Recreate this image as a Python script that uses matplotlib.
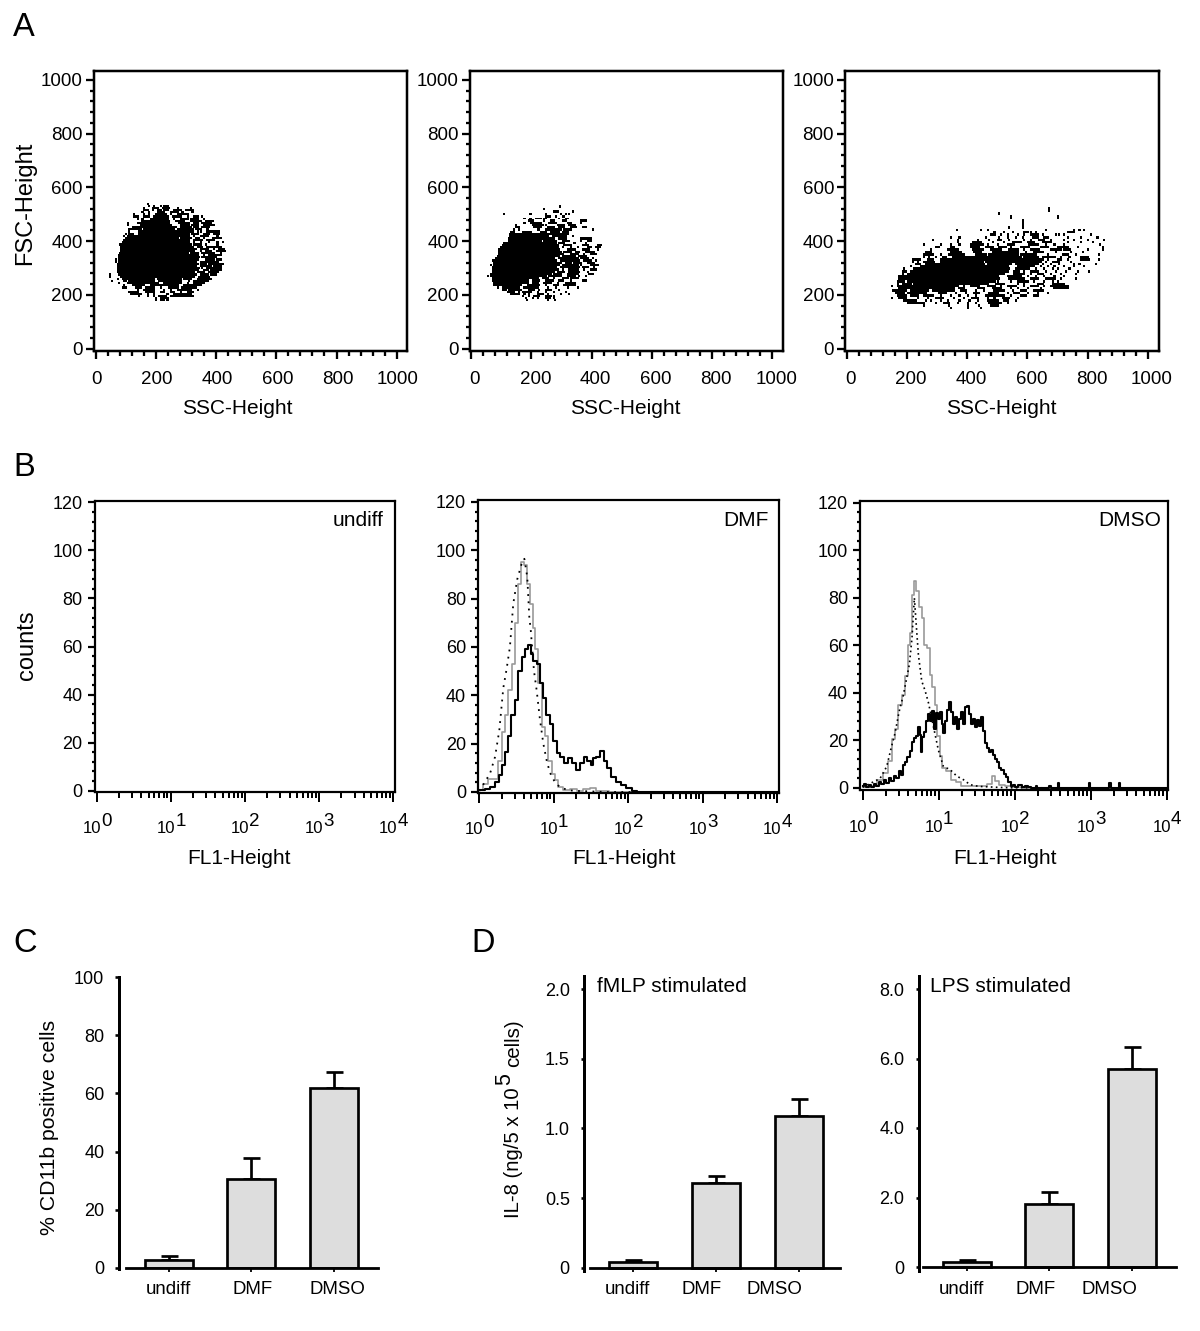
import numpy as np
import matplotlib
matplotlib.use('Agg')
import matplotlib.pyplot as plt
from matplotlib.ticker import MultipleLocator, FixedLocator, NullFormatter, LogLocator

plt.rcParams['font.family'] = ['Liberation Sans', 'DejaVu Sans']

W, H = 1200, 1331
PX = 0.72

# panel A, one row per FSC level: "fsc: ssc ssc-ssc ..." (ranges are solid runs of dots)
cloud_undiff = [
    "544: 169", "536: 175 191 213 224-235", "528: 158 186-202 219-241 269 313",
    "520: 158-169 186 202-213 224-235 257-280 296-318", "512: 152 175 202-224 246-269 285 318",
    "504: 125 158 175 197-230 246 269-302", "496: 125-136 158-175 191-235 252-280 302 324-335 351",
    "488: 136 152 180-235 257 280-302 313-335 357", "480: 152-241 263-291 313-346 362-385",
    "472: 103 136-241 274-307 324-335 351-379", "464: 103 147-246 280-307 318-335 357-390",
    "456: 119-263 280-313 324-335 351-373", "448: 108-147 158-257 269-318 329-346 368",
    "440: 108 141-318 335 346 368-407", "432: 97 108-119 141-307 318-335 357-373 390-407",
    "424: 92 103-307 324 346-368 401", "416: 97-269 280-313 329-340 357 385-412",
    "408: 92-307 324-351 368-390", "400: 86-307 324 346 373 401 418",
    "392: 78-92 97-313 324-346 362 401", "384: 81-318 335-351 368-412",
    "376: 81-329 346-368 390 407-423", "368: 81-324 346 362-379 401-425",
    "360: 78-302 313-335 351-390 412", "352: 75-335 357 373-412", "344: 75-340 351-396",
    "336: 64 75-335 362-390 401-412", "328: 64 75-329 346-401", "320: 70-335 346-362 373-418",
    "312: 70-329 346-380 390-412", "304: 70-81 86-340 351 368-412", "296: 70-335 357-368 379-412",
    "288: 70-324 335-357 373-401", "280: 45 75-329 346-368 379-396", "272: 45 81-324 340-373",
    "264: 70 86-191 202-280 291-313 335-379", "256: 52 92-97 108-191 208-280 307 324-368",
    "248: 75 103-202 224-280 302 324-357", "240: 92 119-158 180-269 291-346",
    "232: 86-97 130-147 164-191 213 241-269 285-329", "224: 136 158-191 224 246 269-313 335",
    "216: 108-136 164-191 213-224 246-257 280 302-318", "208: 114-147 169 191 235 257-313",
    "200: 141 169 191 208-230 246-318", "192: 197 213-235", "184: 197 213-224 235",
]
cloud_dmf = [
    "535: 293", "525: 240", "516: 273-284 334", "506: 107 194 246 295 312 323", "497: 246-257 279 301-306",
    "488: 174 194 212-229 240-246 290 312-317", "481: 190-201 240 262-273 301-312 362-378",
    "473: 174 196-229 257-279 317-328 362", "464: 146 201-234 246 284-306 323-340",
    "456: 146-157 207-229 251-273 290-306 328-345 367-378", "448: 140 157 218-223 246-295 306-328 400",
    "439: 129-140 168-196 229-246 262-290 301-317", "432: 127-246 251-317", "423: 127-251 268-312 334",
    "414: 124-129 135-273 290-312 362-373 378-395", "405: 124-229 240-279 301-323 362 384-395",
    "398: 107-279 290-306 340 378", "390: 102-124 129-284 306-328 367-384 417-428",
    "382: 96-284 301 328 351 384-395 411-423", "373: 91-290 317-340 367-389 417",
    "365: 91-295 306-328 345-356 378-406", "357: 91-301 328-351 373 395-411",
    "349: 85-290 301-340 356-378", "340: 80-273 290-351 362-384 400",
    "332: 69-273 279 295-356 373-395 411", "324: 74-295 312-328 340-362 384-406",
    "315: 63 74-290 301-351 362 395-417", "308: 69-279 295-356 367-384 406",
    "299: 69-284 301 323-351 373 395-411", "290: 69-273 284-306 323-356 384",
    "283: 63-262 273-295 317-351 389-400", "274: 52 63-246 257-295 317-340 356 378",
    "265: 69-218 234-251 273 301-317 328-351", "258: 69-185 201-223 246-268 290-301 328 367-378",
    "249: 74-185 201-218 240-262 284 312-340", "241: 74-85 91-163 185-223 246 273-284 306-340",
    "233: 85 102-157 174-218 251 279 317 351", "224: 102-113 124-163 190-207 223 246-262 290",
    "216: 118-140 157 168-196 218 246 273 312", "208: 129-157 174 190 218-234 251 295 323",
    "199: 168 190 207-223 246-262 273", "191: 179 201 218 246-257 273", "184: 182 251 275",
]
cloud_dmso = [
    "526: 669", "507: 501", "499: 542 697", "481: 581", "456: 536 581", "447: 363 442 465 658 752 769 783",
    "439: 487 520 547 586-597 608 625 730-752", "429: 476-487 509 531 564 586 608-630 647 691 702 719 807",
    "420: 343 371 459 503 531 559 581 614-630 652-664 730 774 829",
    "410: 282 365 431 470 498-509 536 586 608 636-652 674 719 752 796 849",
    "402: 365 415-442 481 520 547-575 597-619 647-674 730 774 813",
    "392: 254 310 343 371 409-448 465 498 531-553 603-630 658 686 719 838",
    "383: 293-304 343-354 409-437 459-481 503-525 542 575-603 641-664 697-730 763 846",
    "373: 276 332-365 415-448 476-509 536-564 586 608-636 674-708 719-736 796 846",
    "365: 260-276 343-376 420-442 481-564 592 619-647 691 741 780",
    "355: 254-282 310 337-387 426-459 470-564 575-625 664 713-730 758 835",
    "345: 254 271 293 315-326 348-575 586-630 647-686 708 736 774-796",
    "336: 216-238 265-282 310-476 481-647 664 697-708 730 774-802 835",
    "328: 216 232 254-287 310-448 459-641 658 680-702 741",
    "320: 227-238 260-453 465-542 559-630 647 674 702 752 769 824",
    "311: 210 243-531 564-619 641 664 686 719 752 785", "303: 188 221-536 559-603 625 652 680 697 736",
    "293: 182-194 210-531 553-569 586 608-630 658 691 725 763 802",
    "283: 182 199-520 553-586 608 630-647 674 708 758", "274: 171-498 531-575 597 625 652 686 719",
    "265: 171-503 536-586 608-630 658-686 708 758", "255: 166-188 199-487 498 542 564-597 619 652 680 697",
    "245: 166 182-210 221-465 492-520 564 586 630-647 680-719",
    "237: 146 166-365 387 409-437 465-487 509 531-559 586 608-630 652 674-730",
    "228: 171-354 371-387 431-453 481-509 542 564 597 641 686-730",
    "221: 152-194 210-265 282-354 376-393 426 453 487-520 547 575-592 619-647",
    "212: 160-188 199-260 304-326 359 393 420-437 470-498 531 553-569 597 630 664",
    "203: 166-194 210-232 254-282 310 343 371 398 426 459-520 542 575-592 619-630",
    "194: 146 171-194 232 265 293-315 354 387 414-431 465 487 514-536 564",
    "185: 188-227 260 276 310 332 371 404 431 465-498 520-531 559",
    "175: 199-254 293 321-337 365 398 426 470-509 531", "166: 254 337 398 437 476-498", "156: 343 398 442",
]

# panel B, FL1 in channels (256 channels over 4 decades), counts per channel
dmf_black_ch = [0, 3.4, 6.3, 12, 15, 18, 21, 23.5, 26, 29, 32, 35, 38, 40, 43, 45, 48, 51, 54, 56, 59, 62, 65, 68,
                71, 74, 78, 81, 85, 88, 91, 94, 97, 99, 102, 106, 108.5, 111, 115, 119, 124, 128, 134, 137, 256]
dmf_black = [0.7, 1, 1.4, 2, 4, 7, 11, 16.5, 23, 32, 38, 50, 56, 59, 61, 57, 54, 53, 45, 39, 32, 28, 21, 16,
             14.5, 12, 14, 12, 9, 12, 14.5, 13, 11, 14, 14.5, 17, 13, 10, 6, 4, 3, 1.5, 0.4, 0, 0]
dmf_gray_ch = [0, 6.3, 9.2, 13.5, 17.8, 20.6, 23.5, 26.3, 29.2, 32.1, 34.9, 37.2, 40.1, 42.1, 45, 47, 49.3, 52.1,
               54.9, 57.9, 60.7, 63.6, 66.4, 69.3, 75, 80.8, 86.5, 92.2, 97.9, 102.2, 108, 114, 256]
dmf_gray = [0.7, 3.5, 5.5, 5.5, 13, 25, 32, 42, 53, 70, 86, 95, 94, 86, 78, 68, 59, 45,
            27, 23, 13, 7.6, 4.8, 2, 1, 1.4, 0.4, 1.4, 1.8, 0.4, 0.4, 0, 0]
dmf_dot_ch = [0, 9.2, 13.5, 17.2, 20.6, 23.5, 26.3, 29.2, 32.6, 36.4, 38.7, 41.2, 43, 44.1, 47, 49.3, 52.1, 55,
              57.9, 60.7, 65, 69.3, 76.5, 86.5, 109, 256]
dmf_dot = [0.4, 7.6, 14.5, 25.5, 43, 51, 60, 78, 88, 94.5, 96.5, 89, 72, 67.6, 50, 42, 30, 20,
           13, 8, 4, 2, 0.7, 0.4, 0, 0]

dmso_black_ch = [0, 2, 3.9, 6.2, 8.4, 10.4, 12.4, 14.6, 16.8, 18.8, 20.8, 23, 25, 27.2, 29.5, 31.4, 33.1, 34.8,
                 36.5, 38.5, 40.4, 42.1, 43.8, 45.5, 47.2, 48.6, 49.7, 50.8, 52.5, 54.5, 56.1, 57.8, 59.5, 60.9,
                 62.3, 64, 65.7, 67.1, 68.5, 70.2, 71.9, 73.5, 75.2, 76.9, 78.6, 80.3, 82, 83.6, 85.3, 87, 88.7,
                 90.4, 92.1, 93.8, 95.4, 97.1, 98.8, 100.5, 102.2, 103.9, 105.5, 107.2, 108.9, 110.6, 112.3, 114,
                 115.6, 117.9, 119.9, 121.8, 123.5, 125.5, 127.4, 129.7, 132.5, 135.3, 138.1, 140.4, 142.6,
                 145.5, 146.5, 147.5, 156.8, 157.8, 158.8, 163.8, 164.8, 165.8, 189.9, 190.9, 191.9,
                 207.3, 208.3, 209.3, 215, 216, 217, 256]
dmso_black = [0.7, 1.5, 0.3, 1.3, 0.5, 1.8, 0.7, 2.6, 1.5, 3.3, 2.2, 4.2, 3.1, 5.2, 4.2, 7, 5.3, 9.5,
              10.8, 13, 15.5, 19.5, 21, 22, 25.5, 22.5, 15, 21.5, 23.5, 28, 31, 28, 32.5, 25,
              31.5, 29, 32, 27, 23, 28, 33, 36, 32, 27, 30, 25, 29, 32, 27, 34, 34.5,
              31, 27, 29, 25.5, 28.5, 26, 30, 24, 19, 17, 15, 16, 14, 12, 11,
              8.5, 7.5, 6, 4.5, 2.5, 0.8, 1.3, 0.4, 1.2, 0.3, 1, 0.5, 0,
              0, 1, 0, 0, 1, 0, 0, 2, 0, 0, 2, 0,
              0, 2, 0, 0, 2, 0, 0]
dmso_gray_ch = [0, 9, 14.6, 18.8, 23, 25.8, 28.6, 31.4, 34.2, 36.5, 39.3, 40.7, 42.7, 44, 46, 48.3, 51, 52.5, 55.9,
                56.7, 59.5, 61.8, 63.7, 66, 68, 72, 76.4, 80.6, 84.8, 90.4, 97.4, 103, 107, 110, 112.8, 117,
                122.7, 126.9, 141, 256]
dmso_gray = [0.3, 0.7, 3.5, 6.4, 11.3, 20.6, 25, 35, 39, 47, 60, 65, 81, 87, 83, 76, 71.6, 60, 59,
             47.5, 42.5, 35, 22, 13.5, 8.5, 7, 3.5, 2.4, 0.7, 1, 0.7, 1, 1.8, 5.2, 2.8, 1.4,
             0.7, 0.4, 0, 0]
dmso_dot_ch = [0, 14.6, 20.2, 24.4, 27.2, 30.6, 34.2, 39.3, 41.5, 43.5, 44.9, 46.9, 49.7, 52.5, 55.3, 59.5, 63.7,
               68, 73.5, 79.2, 84.8, 90.4, 97.4, 112.8, 124, 256]
dmso_dot = [0.3, 4, 9, 17.7, 23, 32, 39, 52, 63, 80, 70, 56, 45, 41, 36, 26, 16,
            9, 7.8, 5, 3.5, 1.4, 0.7, 0.3, 0.1, 0]

# panels C and D
groups = ['undiff', 'DMF', 'DMSO']
cd11b = [2.6, 30.4, 61.9]
cd11b_err = [1.5, 7.3, 5.6]
il8_fmlp = [0.038, 0.605, 1.089]
il8_fmlp_err = [0.015, 0.055, 0.119]
il8_lps = [0.144, 1.81, 5.71]
il8_lps_err = [0.056, 0.35, 0.61]


def make_axes(fig, left, right, top, bottom):
    return fig.add_axes([left / W, 1 - bottom / H, (right - left) / W, (bottom - top) / H])


def limits(low, high, p0, v0, p1, v1):
    # axis limits so that value v0 falls on pixel p0 and v1 on pixel p1
    scale = (v1 - v0) / (p1 - p0)
    return v0 + (low - p0) * scale, v0 + (high - p0) * scale


def px_text(fig, x, y, s, size, **kw):
    kw.setdefault('ha', 'center')
    kw.setdefault('va', 'center')
    return fig.text(x / W, 1 - y / H, s, fontsize=size, **kw)


def draw_cloud(ax, rows):
    # a dot is 7 SSC units wide, a row reaches down to the next FSC level
    levels = [int(row.split(':')[0]) for row in rows]
    for i, row in enumerate(rows):
        spans = []
        for cell in row.split(':')[1].split():
            a, _, b = cell.partition('-')
            spans.append((int(a), int(b or a) - int(a) + 7))
        height = levels[i] - levels[i + 1] if i + 1 < len(rows) else 8
        ax.broken_barh(spans, (levels[i] - height, height), facecolors='black',
                       linewidth=0, antialiased=False)


def dot_panel(fig, rows, box, x0, x1000, label_shift):
    left, right = box
    ax = make_axes(fig, left, right, 70.7, 350.8)
    draw_cloud(ax, rows)
    ax.set_xlim(limits(left, right, x0, 0, x1000, 1000))
    ax.set_ylim(limits(350.8, 70.7, 348.7, 0, 80, 1000))
    ax.xaxis.set_minor_locator(MultipleLocator(40))
    ax.yaxis.set_major_locator(MultipleLocator(200))
    ax.yaxis.set_minor_locator(MultipleLocator(40))
    ax.tick_params(which='major', length=8 * PX, width=2.3 * PX, labelsize=13.5)
    ax.tick_params(which='minor', length=4.5 * PX, width=2.3 * PX)
    ax.tick_params(axis='y', which='major', pad=3 * PX)
    for sp in ax.spines.values():
        sp.set_linewidth(2.5 * PX)
    ax.set_xticks(np.arange(0, 1001, 200))
    ax.set_xticklabels([])
    for v in np.arange(0, 1001, 200):
        ax.annotate(str(v), xy=(v, 0), xycoords=('data', 'axes fraction'),
                    xytext=(label_shift * PX, -28.5 * PX), textcoords='offset points',
                    ha='center', va='center', fontsize=13.5)
    return ax


def hist_panel(fig, box, x0, x4, y0, y120, top, bottom, curves, tag, tag_right):
    left, right = box
    ax = make_axes(fig, left, right, top, bottom)
    for ch, counts, color, lw, style in curves:
        kw = {'drawstyle': 'steps-mid'} if style == '-' else {}
        ax.plot(10 ** (np.array(ch) / 64), counts, color=color, lw=lw, ls=style, **kw)
    ax.set_xscale('log')
    lo, hi = limits(left, right, x0, 0, x4, 4)
    ax.set_xlim(10 ** lo, 10 ** hi)
    ax.set_ylim(limits(bottom, top, y0, 0, y120, 120))
    ax.xaxis.set_major_locator(FixedLocator([1, 10, 100, 1000, 10000]))
    ax.xaxis.set_minor_locator(LogLocator(base=10, subs=np.arange(2, 10), numticks=20))
    ax.xaxis.set_major_formatter(NullFormatter())
    ax.xaxis.set_minor_formatter(NullFormatter())
    ax.yaxis.set_major_locator(MultipleLocator(20))
    ax.yaxis.set_minor_locator(MultipleLocator(4))
    ax.tick_params(axis='y', which='major', length=7 * PX, width=2.2 * PX, labelsize=13, pad=5 * PX)
    ax.tick_params(axis='y', which='minor', length=3.5 * PX, width=2.2 * PX)
    ax.tick_params(axis='x', which='major', length=10 * PX, width=2 * PX)
    ax.tick_params(axis='x', which='minor', length=5.5 * PX, width=2 * PX)
    for sp in ax.spines.values():
        sp.set_linewidth(2.2 * PX)
    for d in range(5):
        ax.annotate('10', xy=(10 ** d, 0), xycoords=('data', 'axes fraction'),
                    xytext=(-5 * PX, -37 * PX), textcoords='offset points',
                    ha='center', va='center', fontsize=12)
        ax.annotate(str(d), xy=(10 ** d, 0), xycoords=('data', 'axes fraction'),
                    xytext=(9.5 * PX, -30 * PX), textcoords='offset points',
                    ha='center', va='center', fontsize=13.5)
    px_text(fig, tag_right, 520, tag, 15, ha='right')
    return ax


def bar_panel(fig, box, top, bottom, centers, values, errors, y0, ytop, ytop_value, base, ticks, ticklabels, tick_len):
    left, right = box
    ax = make_axes(fig, left, right, top, bottom)
    spacing = (centers[2] - centers[0]) / 2
    pos = np.arange(3)
    ax.errorbar(pos, values, yerr=[np.zeros(3), errors], fmt='none', ecolor='black',
                elinewidth=2.7 * PX, capsize=8.5 * PX, capthick=2.7 * PX, zorder=2)
    ax.bar(pos, values, width=48 / spacing, facecolor='#dddddd', edgecolor='black',
           linewidth=2.7 * PX, zorder=3)
    ax.set_xlim(limits(left, right, centers[0], 0, centers[2], 2))
    ax.set_ylim(limits(bottom, top, y0, 0, ytop, ytop_value))
    for name in ['top', 'right']:
        ax.spines[name].set_visible(False)
    ax.spines['left'].set_linewidth(3 * PX)
    ax.spines['bottom'].set_linewidth(2.8 * PX)
    ax.spines['bottom'].set_position(('data', 0))
    ax.spines['bottom'].set_bounds(*limits(base[0], base[1], centers[0], 0, centers[2], 2))
    ax.spines['bottom'].set_zorder(4)
    ax.set_xticks(pos)
    ax.set_xticklabels([])
    ax.set_yticks(ticks)
    ax.set_yticklabels(ticklabels)
    ax.tick_params(axis='x', length=4 * PX, width=1.8 * PX)
    ax.tick_params(axis='y', length=tick_len * PX, width=2.6 * PX, labelsize=13, pad=11 * PX)
    ax.patch.set_alpha(0)
    return ax


fig = plt.figure(figsize=(W / 100, H / 100), dpi=100)

# A
dot_panel(fig, cloud_undiff, (93.5, 407), 95.7, 396.7, 1)
dot_panel(fig, cloud_dmf, (470, 782.7), 471, 772.3, 4)
dot_panel(fig, cloud_dmso, (845, 1159.3), 846.7, 1148, 4)
for x in [237.7, 625, 1001]:
    px_text(fig, x, 408.5, 'SSC-Height', 15)
px_text(fig, 25, 203, 'FSC-Height', 17, rotation=90)

# B
hist_panel(fig, (94.7, 395), 96.7, 393.3, 790.7, 502.3, 500.7, 791.7, [], 'undiff', 383)
hist_panel(fig, (478, 779), 479.3, 777.3, 792, 502, 500.3, 793,
           [(dmf_gray_ch, dmf_gray, '#999999', 1.2, '-'),
            (dmf_dot_ch, dmf_dot, 'black', 1.3, (0, (1, 3))),
            (dmf_black_ch, dmf_black, 'black', 1.5, '-')], 'DMF', 769)
hist_panel(fig, (860, 1168), 862.7, 1166.7, 788, 502.7, 500.7, 790,
           [(dmso_gray_ch, dmso_gray, '#999999', 1.2, '-'),
            (dmso_dot_ch, dmso_dot, 'black', 1.2, (0, (1, 2))),
            (dmso_black_ch, dmso_black, 'black', 1.5, '-')], 'DMSO', 1161)
for x in [239, 624, 1005]:
    px_text(fig, x, 858.5, 'FL1-Height', 15)
px_text(fig, 27, 645, 'counts', 17, rotation=90)

# C
bar_panel(fig, (119.3, 377.7), 976.7, 1268.5, (168.7, 251.3, 334), cd11b, cd11b_err,
          1267.7, 977.3, 100, (126, 377.7), [0, 20, 40, 60, 80, 100],
          ['0', '20', '40', '60', '80', '100'], 4)
for x, g in zip([168, 253, 337], groups):
    px_text(fig, x, 1290, g, 13.4)
px_text(fig, 50, 1127, '% CD11b positive cells', 15.3, rotation=90)

# D
bar_panel(fig, (584.3, 840), 975.7, 1270.5, (633.2, 715.8, 798.8), il8_fmlp, il8_fmlp_err,
          1267.7, 989, 2.0, (590, 840), [0, 0.5, 1.0, 1.5, 2.0],
          ['0', '0.5', '1.0', '1.5', '2.0'], 3.5)
bar_panel(fig, (918.7, 1175.7), 975.7, 1271, (966.7, 1049, 1131.8), il8_lps, il8_lps_err,
          1267, 989, 8.0, (923.3, 1175.7), [0, 2, 4, 6, 8],
          ['0', '2.0', '4.0', '6.0', '8.0'], 3.5)
for x, g in zip([627, 701.7, 774], groups):
    px_text(fig, x, 1290, g, 13.4)
for x, g in zip([961.7, 1035.7, 1109.3], groups):
    px_text(fig, x, 1290, g, 13.4)
px_text(fig, 597, 987, 'fMLP stimulated', 15, ha='left')
px_text(fig, 930, 987, 'LPS stimulated', 15, ha='left')

px_text(fig, 523, 1218, 'IL-8 (ng/5 x 10', 14.6, rotation=90, va='bottom', rotation_mode='anchor', ha='left')
px_text(fig, 505, 1079, '5', 15.5, rotation=90)
px_text(fig, 523, 1067, 'cells)', 14.8, rotation=90, va='bottom', rotation_mode='anchor', ha='left')

# panel letters
for x, y, s in [(24, 27, 'A'), (24, 468, 'B'), (25, 943, 'C'), (483, 943, 'D')]:
    px_text(fig, x, y, s, 23.5)

fig.savefig('out.png', dpi=100)
